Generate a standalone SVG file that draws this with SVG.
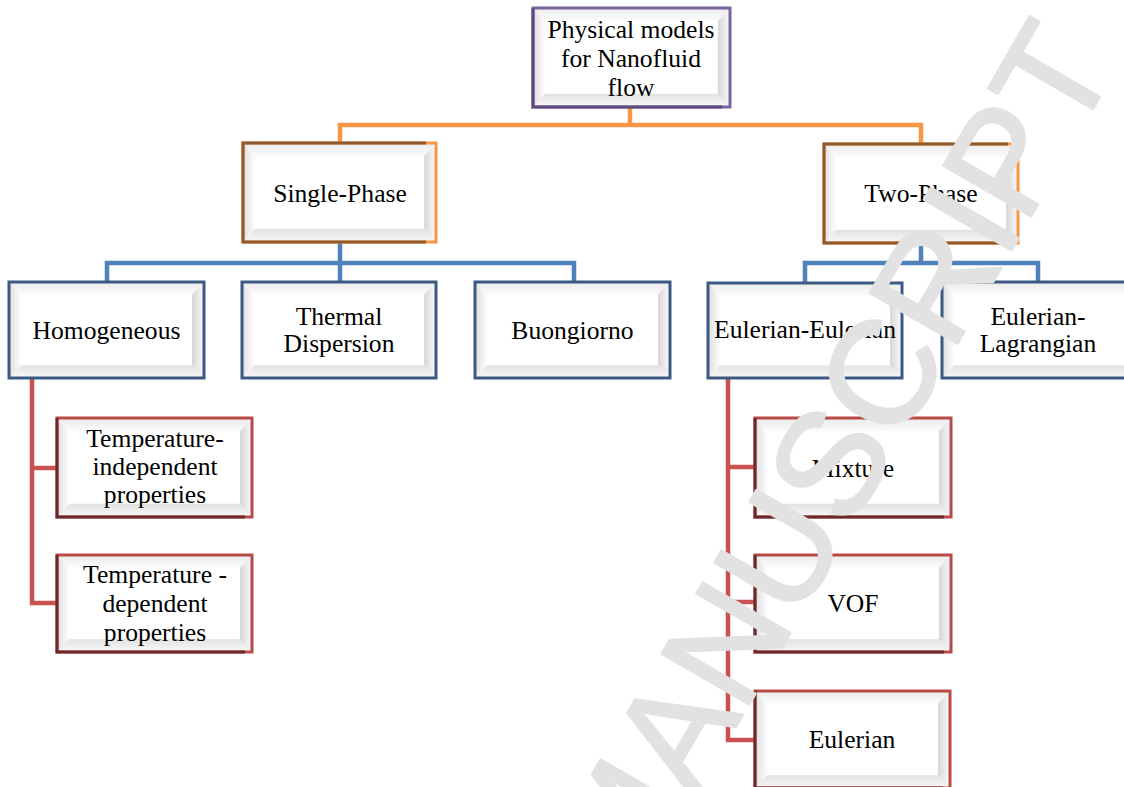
<svg xmlns="http://www.w3.org/2000/svg" xmlns:xlink="http://www.w3.org/1999/xlink" width="1124" height="787" viewBox="0 0 1124 787">
  <style>
    .conn { fill: none; stroke-width: 4.5; stroke-linejoin: miter; stroke-linecap: butt; }
    .c-orange { stroke: #f79646; }
    .c-blue { stroke: #4f81bd; }
    .c-red { stroke: #c9514f; }
    .frame { fill: none; stroke-width: 3; }
    .f-purple { stroke: #7b64a0; }
    .f-orange { stroke: #f79646; }
    .f-blue { stroke: #3a5a84; }
    .f-red { stroke: #b84a48; }
    .shade { fill: none; stroke-width: 3; }
    .s-purple { stroke: #5e4b7c; }
    .s-orange { stroke: #8f5a2e; }
    .s-red { stroke: #6b2b2a; }
    .label { font-family: "Liberation Serif", "Times New Roman", serif; font-size: 25.6px; fill: #000; text-anchor: middle; }
    .watermark { font-family: "Liberation Sans", Arial, sans-serif; font-size: 147px; fill: #e2e2e2; stroke: #e2e2e2; stroke-width: 2.5; stroke-linejoin: round; text-anchor: end; }
  </style>
  <defs>
    <linearGradient id="gL" x1="0" y1="0" x2="1" y2="0">
      <stop offset="0" stop-color="#dedede"/>
      <stop offset="1" stop-color="#fdfdfd"/>
    </linearGradient>
    <linearGradient id="gR" x1="0" y1="0" x2="1" y2="0">
      <stop offset="0" stop-color="#d6d6d6"/>
      <stop offset="1" stop-color="#fbfbfb"/>
    </linearGradient>
    <linearGradient id="gT" x1="0" y1="0" x2="0" y2="1">
      <stop offset="0" stop-color="#ebebeb"/>
      <stop offset="1" stop-color="#fbfbfb"/>
    </linearGradient>
    <linearGradient id="gB" x1="0" y1="0" x2="0" y2="1">
      <stop offset="0" stop-color="#e2e2e2"/>
      <stop offset="1" stop-color="#f8f8f8"/>
    </linearGradient>
    <!-- bevelled white face shared by every box -->
    <symbol id="bevel" viewBox="0 0 195 98" preserveAspectRatio="none">
      <rect x="0" y="0" width="195" height="98" fill="#ffffff"/>
      <polygon points="0,0 195,0 183,13 12,13" fill="url(#gT)"/>
      <polygon points="0,98 12,85 183,85 195,98" fill="url(#gB)"/>
      <polygon points="0,0 12,13 12,85 0,98" fill="url(#gL)"/>
      <polygon points="195,0 183,13 183,85 195,98" fill="url(#gR)"/>
    </symbol>
  </defs>

  <rect width="1124" height="787" fill="#ffffff"/>

  <!-- connectors -->
  <g id="connectors">
    <path class="conn c-orange" d="M630,107 V125 M340,143 V125 H921 V144"/>
    <path class="conn c-blue" d="M340,242 V263 M107,282 V263 H574 V282 M340,263 V282"/>
    <path class="conn c-blue" d="M921,243 V263 M805,283 V263 H1038 V282"/>
    <path class="conn c-red" d="M32,378 V603 H57 M32,468 H57"/>
    <path class="conn c-red" d="M728,378 V740 H755 M728,467 H755 M728,602 H755"/>
  </g>

  <!-- level 0 -->
  <g id="node-root">
    <use href="#bevel" x="533" y="8" width="197" height="99"/>
    <rect class="frame f-purple" x="533" y="8" width="197" height="99"/>
    <path class="shade s-purple" d="M533,8 V107 H722"/>
    <text class="label" x="631" y="37.5">Physical models</text>
    <text class="label" x="631" y="66.5">for Nanofluid</text>
    <text class="label" x="631" y="95.5">flow</text>
  </g>

  <!-- level 1 -->
  <g id="node-single-phase">
    <use href="#bevel" x="243" y="143" width="193" height="99"/>
    <rect class="frame f-orange" x="243" y="143" width="193" height="99"/>
    <path class="shade s-orange" d="M426,143 H243 V242 H426"/>
    <text class="label" x="340" y="201.5">Single-Phase</text>
  </g>
  <g id="node-two-phase">
    <use href="#bevel" x="824" y="144" width="194" height="99"/>
    <rect class="frame f-orange" x="824" y="144" width="194" height="99"/>
    <path class="shade s-orange" d="M1008,144 H824 V243 H1008"/>
    <text class="label" x="921" y="202">Two-Phase</text>
  </g>

  <!-- level 2 -->
  <g id="node-homogeneous">
    <use href="#bevel" x="9" y="282" width="195" height="96"/>
    <rect class="frame f-blue" x="9" y="282" width="195" height="96"/>
    <text class="label" x="106.5" y="338.5">Homogeneous</text>
  </g>
  <g id="node-thermal-dispersion">
    <use href="#bevel" x="242" y="282" width="194" height="96"/>
    <rect class="frame f-blue" x="242" y="282" width="194" height="96"/>
    <text class="label" x="339" y="325">Thermal</text>
    <text class="label" x="339" y="352">Dispersion</text>
  </g>
  <g id="node-buongiorno">
    <use href="#bevel" x="475" y="282" width="195" height="96"/>
    <rect class="frame f-blue" x="475" y="282" width="195" height="96"/>
    <text class="label" x="572.5" y="338.5">Buongiorno</text>
  </g>
  <g id="node-eulerian-eulerian">
    <use href="#bevel" x="708" y="283" width="194" height="95"/>
    <rect class="frame f-blue" x="708" y="283" width="194" height="95"/>
    <text class="label" x="805" y="338">Eulerian-Eulerian</text>
  </g>
  <g id="node-eulerian-lagrangian">
    <use href="#bevel" x="942" y="282" width="194" height="96"/>
    <rect class="frame f-blue" x="942" y="282" width="194" height="96"/>
    <text class="label" x="1038" y="325">Eulerian-</text>
    <text class="label" x="1038" y="352">Lagrangian</text>
  </g>

  <!-- level 3 -->
  <g id="node-temperature-independent">
    <use href="#bevel" x="57" y="418" width="195" height="99"/>
    <rect class="frame f-red" x="57" y="418" width="195" height="99"/>
    <path class="shade s-red" d="M57,418 V517 H245"/>
    <text class="label" x="155" y="447">Temperature-</text>
    <text class="label" x="155" y="475">independent</text>
    <text class="label" x="155" y="503">properties</text>
  </g>
  <g id="node-temperature-dependent">
    <use href="#bevel" x="57" y="555" width="195" height="97"/>
    <rect class="frame f-red" x="57" y="555" width="195" height="97"/>
    <path class="shade s-red" d="M57,555 V652 H245"/>
    <text class="label" x="155" y="583">Temperature -</text>
    <text class="label" x="155" y="612">dependent</text>
    <text class="label" x="155" y="641">properties</text>
  </g>
  <g id="node-mixture">
    <use href="#bevel" x="755" y="418" width="196" height="99"/>
    <rect class="frame f-red" x="755" y="418" width="196" height="99"/>
    <path class="shade s-red" d="M755,418 V517 H944"/>
    <text class="label" x="853" y="477">Mixture</text>
  </g>
  <g id="node-vof">
    <use href="#bevel" x="755" y="555" width="196" height="97"/>
    <rect class="frame f-red" x="755" y="555" width="196" height="97"/>
    <path class="shade s-red" d="M755,555 V652 H944"/>
    <text class="label" x="853" y="612">VOF</text>
  </g>
  <g id="node-eulerian">
    <use href="#bevel" x="755" y="691" width="195" height="97"/>
    <rect class="frame f-red" x="755" y="691" width="195" height="97"/>
    <path class="shade s-red" d="M755,691 V788 H943"/>
    <text class="label" x="852" y="748">Eulerian</text>
  </g>

  <!-- diagonal stamp across the page -->
  <text class="watermark" transform="translate(1119,64) rotate(-60)">MANUSCRIPT</text>
</svg>
